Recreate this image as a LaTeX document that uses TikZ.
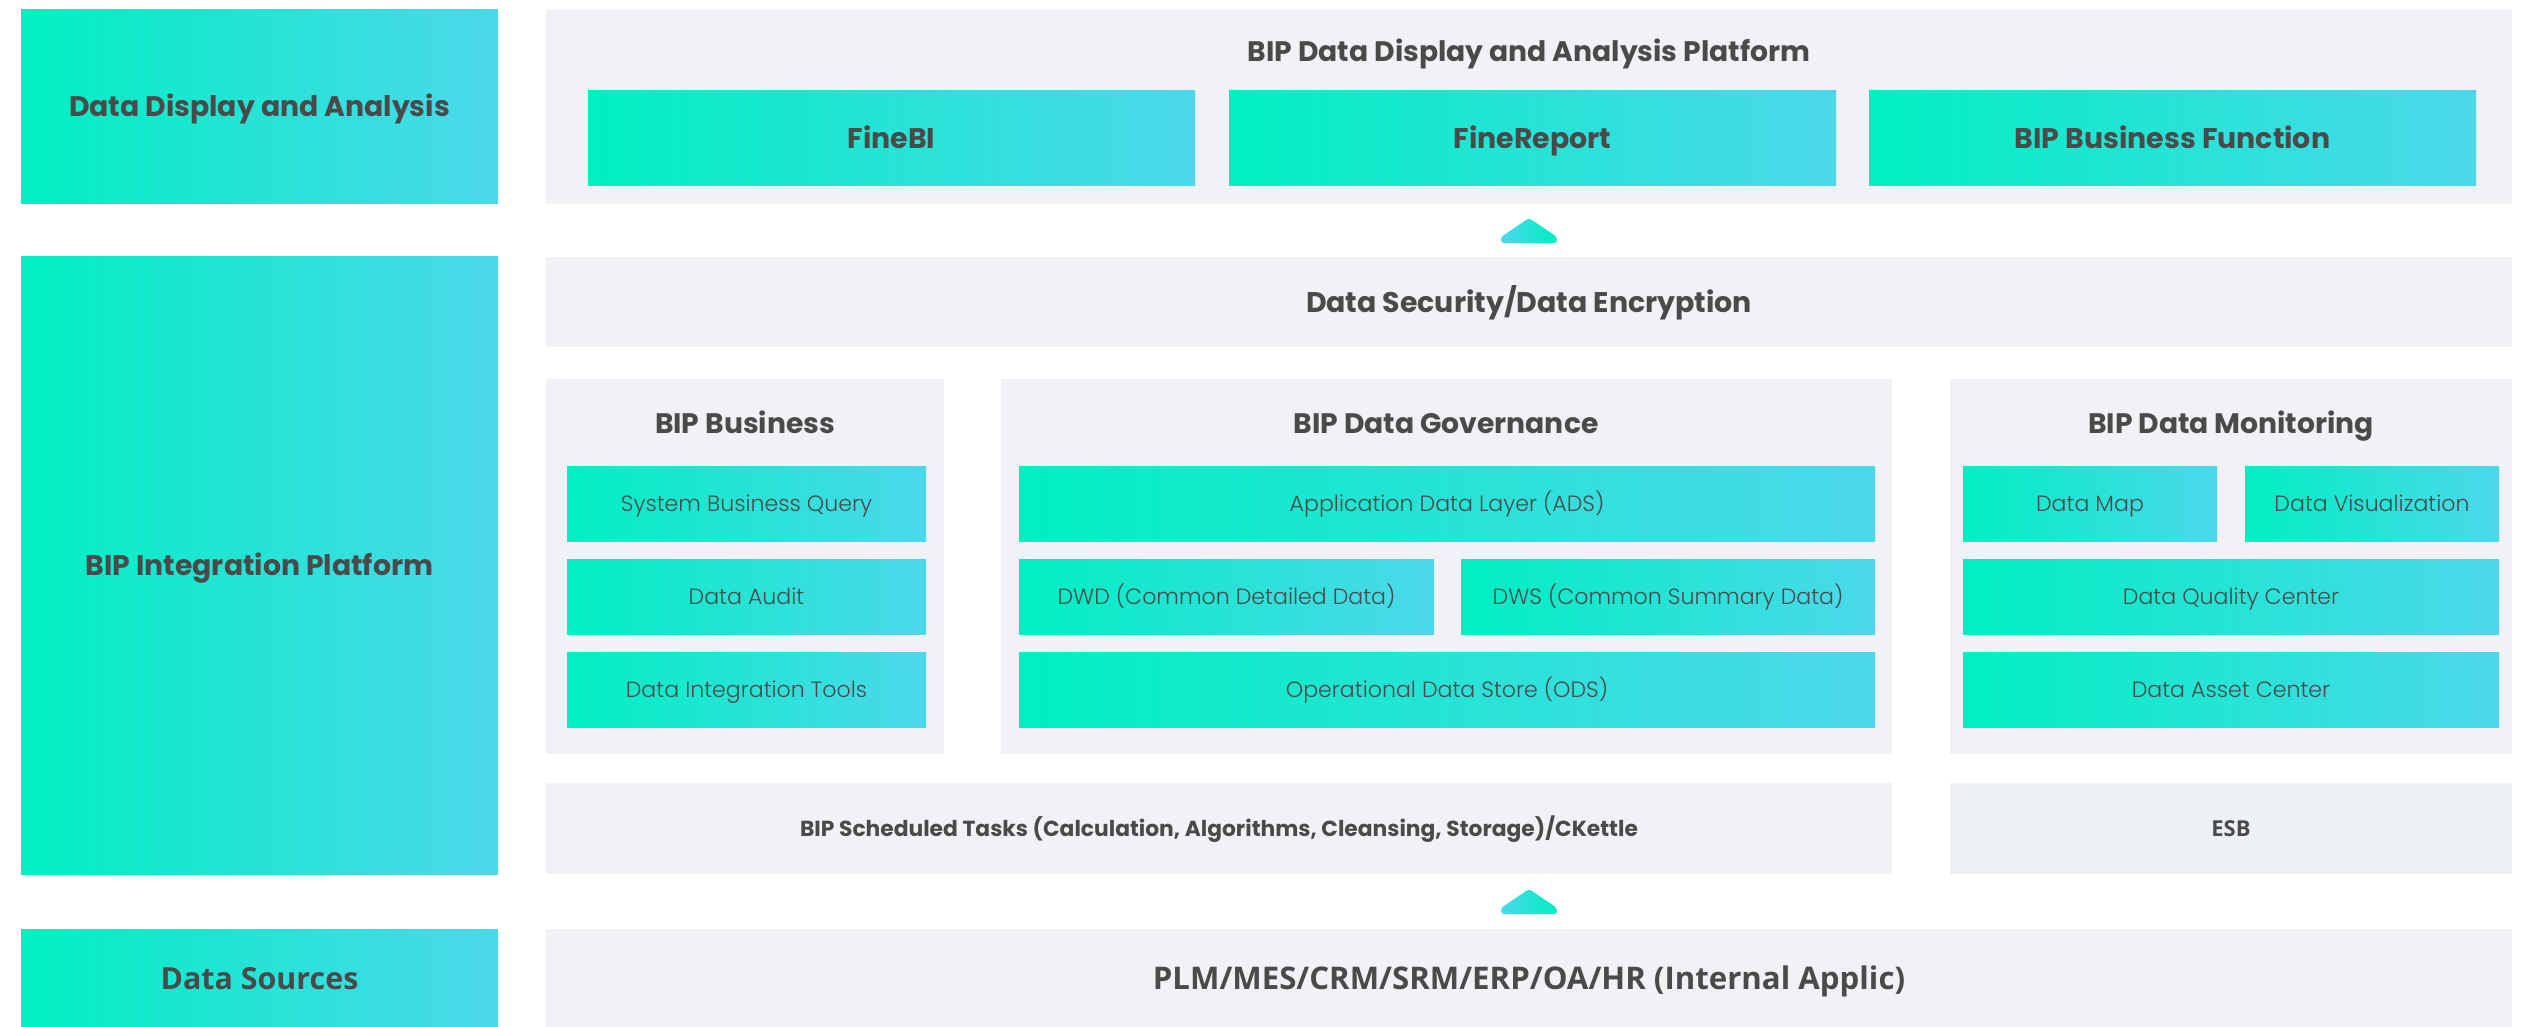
\documentclass[tikz,border=0pt]{standalone}
\usepackage{fontspec}
\setmainfont{Poppins}
\newfontfamily\lightfont{Poppins Light}
\newfontfamily\osans{Open Sans}
\definecolor{gA}{RGB}{0,239,193}
\definecolor{gB}{RGB}{76,216,235}
\definecolor{panel}{RGB}{241,242,246}
\definecolor{esbc}{RGB}{237,240,245}
\definecolor{txt}{RGB}{74,74,74}
\tikzset{
  base/.style={anchor=north west, inner sep=0pt, outer sep=0pt, text=txt, align=center, draw=none},
  grad/.style={base, left color=gA, right color=gB},
  panelbox/.style={base, fill=panel},
  esbbox/.style={base, fill=esbc},
  sz/.style 2 args={minimum width=#1pt, minimum height=#2pt},
  lbl/.style={font=\fontsize{28.3}{33}\selectfont\bfseries, text height=26pt, text depth=6pt},
  ttl/.style={font=\fontsize{28.2}{33}\selectfont\bfseries, text=txt, text height=26pt, text depth=6pt},
  big/.style={font=\fontsize{28.4}{33}\selectfont\bfseries, text height=26pt, text depth=6pt},
  item/.style={font=\lightfont\fontsize{22.1}{27}\selectfont, text height=21.5pt, text depth=6pt},
  sched/.style={font=\fontsize{21.8}{26}\selectfont\bfseries, text height=21pt, text depth=6pt},
  src/.style={font=\osans\fontsize{31.2}{36}\selectfont\bfseries, text height=28pt, text depth=6pt},
  arrowshade/.style={left color=gB, right color=gA, rounded corners=3pt},
}
\begin{document}
\begin{tikzpicture}[x=1pt, y=-1pt]
\useasboundingbox (0,0) rectangle (2533,1027);
\fill[white] (0,0) rectangle (2533,1027);
% left column
\node[grad, sz={477}{194}, lbl] (l1) at (21,10) {Data Display and Analysis};
\node[grad, sz={477}{617}, lbl] (l2) at (21,257) {BIP Integration Platform};
\node[grad, sz={477}{98}, src, font=\osans\fontsize{30.4}{36}\selectfont\bfseries] (l3) at (21,929) {Data Sources};
% top panel
\node[panelbox, sz={1966}{194}] (top) at (546,10) {};
\node[ttl, anchor=center] (toptitle) at (1529,52) {BIP Data Display and Analysis Platform};
\node[grad, sz={607}{95}, big] (finebi) at (588,91) {FineBI};
\node[grad, sz={607}{95}, big] (finereport) at (1229,91) {FineReport};
\node[grad, sz={607}{95}, big] (bipbf) at (1869,91) {BIP Business Function};
% arrow 1
\shade[arrowshade] (1501,243) -- (1501,237) -- (1529,218) -- (1557,237) -- (1557,243) -- cycle;
% data security
\node[panelbox, sz={1966}{90}, big] (sec) at (546,257) {Data Security/Data Encryption};
% BIP Business
\node[panelbox, sz={398}{375}] (bus) at (546,379) {};
\node[ttl, anchor=center] (bustitle) at (745,423) {BIP Business};
\node[grad, sz={359}{75}, item] (sbq) at (567,466) {System Business Query};
\node[grad, sz={359}{75}, item] (audit) at (567,559) {Data Audit};
\node[grad, sz={359}{75}, item] (dit) at (567,652) {Data Integration Tools};
% Governance
\node[panelbox, sz={891}{375}] (gov) at (1001,379) {};
\node[ttl, anchor=center] (govtitle) at (1446,423) {BIP Data Governance};
\node[grad, sz={856}{75}, item] (ads) at (1019,466) {Application Data Layer (ADS)};
\node[grad, sz={415}{75}, item] (dwd) at (1019,559) {DWD (Common Detailed Data)};
\node[grad, sz={414}{75}, item] (dws) at (1461,559) {DWS (Common Summary Data)};
\node[grad, sz={856}{75}, item] (ods) at (1019,652) {Operational Data Store (ODS)};
% Monitoring
\node[panelbox, sz={562}{375}] (mon) at (1950,379) {};
\node[ttl, anchor=center] (montitle) at (2231,423) {BIP Data Monitoring};
\node[grad, sz={254}{75}, item] (map) at (1963,466) {Data Map};
\node[grad, sz={254}{75}, item] (vis) at (2245,466) {Data Visualization};
\node[grad, sz={536}{75}, item] (qual) at (1963,559) {Data Quality Center};
\node[grad, sz={536}{75}, item] (asset) at (1963,652) {Data Asset Center};
% scheduled / ESB
\node[panelbox, sz={1346}{91}, sched] (sch) at (546,783) {BIP Scheduled Tasks (Calculation, Algorithms, Cleansing, Storage)/CKettle};
\node[esbbox, sz={562}{91}, src, font=\osans\fontsize{22}{26}\selectfont\bfseries, text height=21pt, text depth=5pt] (esb) at (1950,783) {ESB};
% arrow 2
\shade[arrowshade] (1501,914) -- (1501,908) -- (1529,889) -- (1557,908) -- (1557,914) -- cycle;
% sources
\node[panelbox, sz={1966}{98}, src] (plm) at (546,929) {PLM/MES/CRM/SRM/ERP/OA/HR (Internal Applic)};
\end{tikzpicture}
\end{document}
